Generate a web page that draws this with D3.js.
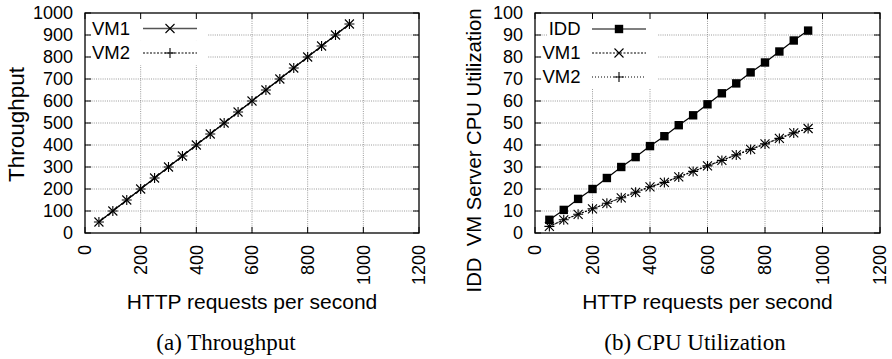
<!DOCTYPE html>
<html>
<head>
<meta charset="utf-8">
<script src="https://cdn.jsdelivr.net/npm/d3@7"></script>
<style>
  body { margin: 0; background: #fff; }
  text { font-family: "Liberation Sans", Arial, sans-serif; fill: #000; }
  .caption { font-family: "Liberation Serif", "Times New Roman", serif; }
</style>
</head>
<body>
<svg id="chart" width="892" height="359"></svg>
<script>
const requests = [50, 100, 150, 200, 250, 300, 350, 400, 450, 500, 550, 600, 650, 700, 750, 800, 850, 900, 950];
const throughputVM1 = [50, 100, 150, 200, 250, 300, 350, 400, 450, 500, 550, 600, 650, 700, 750, 800, 850, 900, 950];
const throughputVM2 = [50, 100, 150, 200, 250, 300, 350, 400, 450, 500, 550, 600, 650, 700, 750, 800, 850, 900, 950];
const cpuIDD = [6, 10.5, 15.5, 20, 25, 30, 34.5, 39.5, 44, 49, 53.5, 58.5, 63.5, 68, 73, 77.5, 82.5, 87.5, 92];
const cpuVM1 = [3, 6, 8.5, 11, 13.5, 16, 18.5, 21, 23, 25.5, 28, 30.5, 33, 35.5, 38, 40.5, 43, 45.5, 47.5];
const cpuVM2 = [3, 6, 8.5, 11, 13.5, 16, 18.5, 21, 23, 25.5, 28, 30.5, 33, 35.5, 38, 40.5, 43, 45.5, 47.5];
const xTicks = [0, 200, 400, 600, 800, 1000, 1200];
const throughputTicks = [0, 100, 200, 300, 400, 500, 600, 700, 800, 900, 1000];
const cpuTicks = [0, 10, 20, 30, 40, 50, 60, 70, 80, 90, 100];

const svg = d3.select('#chart');

function marker(g, type, x, y) {
  const s = 4.5;
  if (type === 'square') {
    g.append('rect').attr('x', x - 4.2).attr('y', y - 4.2)
      .attr('width', 8.4).attr('height', 8.4).attr('fill', '#000');
  } else if (type === 'cross') {
    g.append('path').attr('d', `M${x - s},${y - s}L${x + s},${y + s}M${x - s},${y + s}L${x + s},${y - s}`)
      .attr('stroke', '#000').attr('stroke-width', 1.1);
  } else {
    g.append('path').attr('d', `M${x - s - 0.5},${y}L${x + s + 0.5},${y}M${x},${y - s - 0.5}L${x},${y + s + 0.5}`)
      .attr('stroke', '#000').attr('stroke-width', 1.1);
  }
}

function panel(opts) {
  const g = svg.append('g');
  const x = d3.scaleLinear().domain([0, 1200]).range([opts.left, opts.right]);
  const y = d3.scaleLinear().domain([0, opts.ymax]).range([233, 13]);

  // grid
  const grid = g.append('g').attr('stroke', '#9a9a9a').attr('stroke-width', 1)
    .attr('stroke-dasharray', '1,1.2');
  opts.yTicks.slice(1, -1).forEach(t => {
    grid.append('line').attr('x1', x(0)).attr('x2', x(1200)).attr('y1', y(t)).attr('y2', y(t));
  });
  xTicks.slice(1, -1).forEach(t => {
    grid.append('line').attr('x1', x(t)).attr('x2', x(t)).attr('y1', y(0)).attr('y2', y(opts.ymax));
  });

  const keyLayer = g.append('g');

  // axes with mirrored inward ticks
  const ax = g.append('g').attr('stroke', '#000').attr('stroke-width', 1);
  opts.yTicks.forEach(t => {
    ax.append('line').attr('x1', x(0)).attr('x2', x(0) + 6).attr('y1', y(t)).attr('y2', y(t));
    ax.append('line').attr('x1', x(1200)).attr('x2', x(1200) - 6).attr('y1', y(t)).attr('y2', y(t));
  });
  xTicks.forEach(t => {
    ax.append('line').attr('x1', x(t)).attr('x2', x(t)).attr('y1', y(0)).attr('y2', y(0) - 6);
    ax.append('line').attr('x1', x(t)).attr('x2', x(t)).attr('y1', y(opts.ymax)).attr('y2', y(opts.ymax) + 6);
  });
  g.append('rect').attr('x', x(0)).attr('y', y(opts.ymax))
    .attr('width', x(1200) - x(0)).attr('height', y(0) - y(opts.ymax))
    .attr('fill', 'none').attr('stroke', '#000').attr('stroke-width', 1.3);

  // tick labels
  opts.yTicks.forEach(t => {
    g.append('text').attr('x', x(0) - 12).attr('y', y(t)).attr('dy', '0.35em')
      .attr('text-anchor', 'end').attr('font-size', 18).text(t);
  });
  xTicks.forEach(t => {
    g.append('text').attr('transform', `translate(${x(t)},${y(0) + 12}) rotate(-90)`)
      .attr('dy', '0.35em').attr('text-anchor', 'end').attr('font-size', 18).text(t);
  });

  // titles
  g.append('text').attr('x', (x(0) + x(1200)) / 2).attr('y', 309)
    .attr('text-anchor', 'middle').attr('font-size', 21).text('HTTP requests per second');
  g.append('text').attr('transform', `translate(${opts.ytitleX},${opts.ytitleY}) rotate(-90)`)
    .attr('text-anchor', 'middle').attr('font-size', opts.ytitleSize)
    .style('white-space', 'pre').text(opts.ytitle);
  g.append('text').attr('class', 'caption').attr('x', opts.captionX).attr('y', 350)
    .attr('text-anchor', 'middle').attr('font-size', 23).text(opts.caption);

  // series
  const line = d3.line().x((d, i) => x(requests[i])).y(d => y(d));
  opts.series.forEach((s, k) => {
    g.append('path').datum(s.values).attr('d', line).attr('fill', 'none')
      .attr('stroke', '#000').attr('stroke-width', 1.2)
      .attr('stroke-dasharray', s.dash);
    s.values.forEach((v, i) => marker(g, s.marker, x(requests[i]), y(v)));

    // legend entry (right-justified label, sample line)
    const ly = opts.keyY + k * opts.keyStep;
    const label = keyLayer.append('text').attr('x', opts.keyTextRight).attr('y', ly).attr('dy', '0.35em')
      .attr('text-anchor', 'end').attr('font-size', 18.5).text(s.name);
    const w = label.node().getComputedTextLength();
    const top = k === 0 ? y(opts.ymax) + 1 : ly - opts.keyStep / 2;
    keyLayer.insert('rect', 'text').attr('x', opts.keyTextRight - w - 1).attr('y', top)
      .attr('width', opts.keyRight - (opts.keyTextRight - w - 1))
      .attr('height', ly + opts.keyStep / 2 - top).attr('fill', '#fff');
    keyLayer.append('line').attr('x1', opts.keySample[0]).attr('x2', opts.keySample[1])
      .attr('y1', ly).attr('y2', ly).attr('stroke', '#555').attr('stroke-width', 1.3)
      .attr('stroke-dasharray', s.dash);
    marker(keyLayer, s.marker, (opts.keySample[0] + opts.keySample[1]) / 2, ly);
  });
}

panel({
  left: 85, right: 419, ymax: 1000, yTicks: throughputTicks,
  ytitle: 'Throughput', ytitleX: 24, ytitleY: 124.5, ytitleSize: 22.5,
  caption: '(a) Throughput', captionX: 226,
  keyY: 28.5, keyStep: 24.5, keyTextRight: 130, keySample: [143, 197], keyRight: 208,
  series: [
    { name: 'VM1', values: throughputVM1, marker: 'cross', dash: null },
    { name: 'VM2', values: throughputVM2, marker: 'plus', dash: '2,1.5' }
  ]
});

panel({
  left: 535, right: 880, ymax: 100, yTicks: cpuTicks,
  ytitle: 'IDD  VM Server CPU Utilization', ytitleX: 481, ytitleY: 150.5, ytitleSize: 20.3,
  caption: '(b) CPU Utilization', captionX: 695,
  keyY: 29, keyStep: 24, keyTextRight: 580.5, keySample: [592, 646], keyRight: 657,
  series: [
    { name: 'IDD', values: cpuIDD, marker: 'square', dash: null },
    { name: 'VM1', values: cpuVM1, marker: 'cross', dash: '2,1.5' },
    { name: 'VM2', values: cpuVM2, marker: 'plus', dash: '1,2' }
  ]
});
</script>
</body>
</html>
